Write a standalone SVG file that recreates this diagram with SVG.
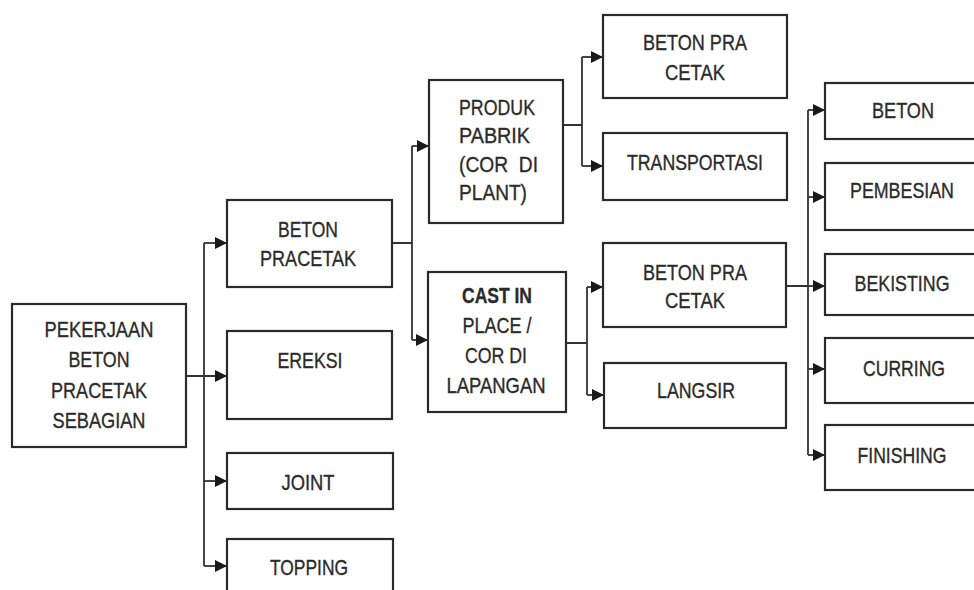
<svg xmlns="http://www.w3.org/2000/svg" width="974" height="590" viewBox="0 0 974 590">
<defs>
<marker id="ah" markerUnits="userSpaceOnUse" markerWidth="12" markerHeight="12" refX="12" refY="6" orient="auto">
<path d="M0,0 L12,6 L0,12 z" fill="#1a1a1a"/>
</marker>
<style>
.box{fill:#fff;stroke:#2a2a2a;stroke-width:2.2}
.t{font-family:"Liberation Sans",Arial,sans-serif;font-size:22px;fill:#2b2b2b;stroke:#2b2b2b;stroke-width:0.35;text-anchor:middle}
.l{font-family:"Liberation Sans",Arial,sans-serif;font-size:22px;fill:#2b2b2b;stroke:#2b2b2b;stroke-width:0.35;text-anchor:start}
.c{fill:none;stroke:#333;stroke-width:1.8}
.a{fill:none;stroke:#333;stroke-width:1.8;marker-end:url(#ah)}
</style>
</defs>
<rect width="974" height="590" fill="#fff"/>
<g id="connectors">
<path class="c" d="M204,243 V566"/>
<path class="a" d="M186,376 H227"/>
<path class="a" d="M204,243 H227"/>
<path class="a" d="M204,481 H227"/>
<path class="a" d="M204,566 H227"/>
<path class="c" d="M392,243 H412 M412,146 V340"/>
<path class="a" d="M412,146 H429"/>
<path class="a" d="M412,340 H428"/>
<path class="c" d="M563,125 H582 M582,57 V166"/>
<path class="a" d="M582,57 H603"/>
<path class="a" d="M582,166 H603"/>
<path class="c" d="M566,343 H587 M587,287 V395"/>
<path class="a" d="M587,287 H603"/>
<path class="a" d="M587,395 H604"/>
<path class="c" d="M786,286 H808 M808,110 V455"/>
<path class="a" d="M808,110 H825"/>
<path class="a" d="M808,197 H825"/>
<path class="a" d="M808,286 H825"/>
<path class="a" d="M808,369 H825"/>
<path class="a" d="M808,455 H825"/>
</g>
<g id="root">
<rect class="box" x="12" y="304" width="174" height="143"/>
<text class="t" x="99" y="337" textLength="109" lengthAdjust="spacingAndGlyphs">PEKERJAAN</text>
<text class="t" x="99" y="367" textLength="61" lengthAdjust="spacingAndGlyphs">BETON</text>
<text class="t" x="99" y="398" textLength="96" lengthAdjust="spacingAndGlyphs">PRACETAK</text>
<text class="t" x="99" y="428" textLength="93" lengthAdjust="spacingAndGlyphs">SEBAGIAN</text>
</g>
<g id="beton-pracetak">
<rect class="box" x="227" y="200" width="165" height="87"/>
<text class="t" x="308" y="237" textLength="60" lengthAdjust="spacingAndGlyphs">BETON</text>
<text class="t" x="308" y="266" textLength="96" lengthAdjust="spacingAndGlyphs">PRACETAK</text>
</g>
<g id="ereksi">
<rect class="box" x="227" y="331" width="165" height="88"/>
<text class="t" x="310" y="368" textLength="65" lengthAdjust="spacingAndGlyphs">EREKSI</text>
</g>
<g id="joint">
<rect class="box" x="227" y="453" width="166" height="56"/>
<text class="t" x="308" y="490" textLength="53" lengthAdjust="spacingAndGlyphs">JOINT</text>
</g>
<g id="topping">
<rect class="box" x="227" y="539" width="166" height="70"/>
<text class="t" x="309" y="575" textLength="78" lengthAdjust="spacingAndGlyphs">TOPPING</text>
</g>
<g id="produk-pabrik">
<rect class="box" x="429" y="80" width="134" height="143"/>
<text class="l" x="459" y="115" textLength="76" lengthAdjust="spacingAndGlyphs">PRODUK</text>
<text class="l" x="459" y="143" textLength="71" lengthAdjust="spacingAndGlyphs">PABRIK</text>
<text class="l" x="459" y="172" textLength="79" lengthAdjust="spacingAndGlyphs" xml:space="preserve">(COR  DI</text>
<text class="l" x="459" y="200" textLength="68" lengthAdjust="spacingAndGlyphs">PLANT)</text>
</g>
<g id="cast-in-place">
<rect class="box" x="428" y="272" width="138" height="140"/>
<text class="t" x="497" y="303" font-size="18" font-weight="bold" textLength="70" lengthAdjust="spacingAndGlyphs">CAST IN</text>
<text class="t" x="497" y="333" textLength="69" lengthAdjust="spacingAndGlyphs">PLACE /</text>
<text class="t" x="496" y="363" textLength="62" lengthAdjust="spacingAndGlyphs">COR DI</text>
<text class="t" x="496" y="393" textLength="99" lengthAdjust="spacingAndGlyphs">LAPANGAN</text>
</g>
<g id="beton-pra-cetak-1">
<rect class="box" x="603" y="15" width="184" height="83"/>
<text class="t" x="695" y="50" textLength="104" lengthAdjust="spacingAndGlyphs">BETON PRA</text>
<text class="t" x="695" y="80" textLength="60" lengthAdjust="spacingAndGlyphs">CETAK</text>
</g>
<g id="transportasi">
<rect class="box" x="603" y="133" width="184" height="67"/>
<text class="t" x="695" y="170" textLength="136" lengthAdjust="spacingAndGlyphs">TRANSPORTASI</text>
</g>
<g id="beton-pra-cetak-2">
<rect class="box" x="603" y="243" width="183" height="84"/>
<text class="t" x="695" y="280" textLength="104" lengthAdjust="spacingAndGlyphs">BETON PRA</text>
<text class="t" x="695" y="308" textLength="60" lengthAdjust="spacingAndGlyphs">CETAK</text>
</g>
<g id="langsir">
<rect class="box" x="604" y="363" width="182" height="65"/>
<text class="t" x="696" y="398" textLength="78" lengthAdjust="spacingAndGlyphs">LANGSIR</text>
</g>
<g id="beton">
<rect class="box" x="825" y="83" width="156" height="56"/>
<text class="t" x="903" y="118" textLength="62" lengthAdjust="spacingAndGlyphs">BETON</text>
</g>
<g id="pembesian">
<rect class="box" x="825" y="163" width="156" height="67"/>
<text class="t" x="902" y="198" textLength="104" lengthAdjust="spacingAndGlyphs">PEMBESIAN</text>
</g>
<g id="bekisting">
<rect class="box" x="825" y="254" width="156" height="61"/>
<text class="t" x="902" y="291" textLength="95" lengthAdjust="spacingAndGlyphs">BEKISTING</text>
</g>
<g id="curring">
<rect class="box" x="825" y="338" width="156" height="65"/>
<text class="t" x="904" y="376" textLength="82" lengthAdjust="spacingAndGlyphs">CURRING</text>
</g>
<g id="finishing">
<rect class="box" x="825" y="425" width="156" height="65"/>
<text class="t" x="902" y="463" textLength="89" lengthAdjust="spacingAndGlyphs">FINISHING</text>
</g>
</svg>
